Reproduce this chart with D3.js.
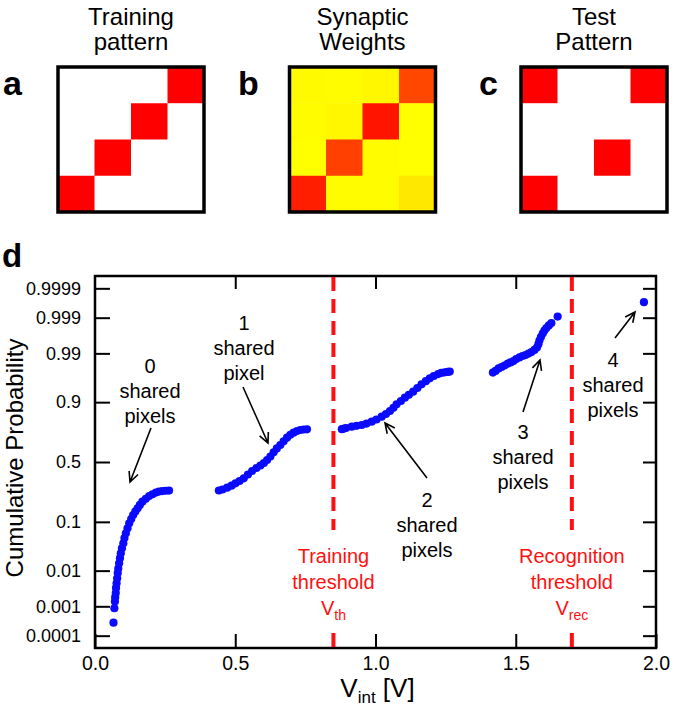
<!DOCTYPE html>
<html>
<head>
<meta charset="utf-8">
<title>Pattern recognition</title>
<script src="https://d3js.org/d3.v7.min.js"></script>
<style>
  body { margin: 0; background: #fff; }
  text { font-family: "Liberation Sans", Arial, sans-serif; }
</style>
</head>
<body>
<svg width="675" height="710"></svg>
<script>
// ---- panel a-c : 4x4 pixel patterns (row 0 = top) ----
var trainingPattern = [
  [0,0,0,1],
  [0,0,1,0],
  [0,1,0,0],
  [1,0,0,0]];
var synapticWeights = [
  [0.02,0.01,0.03,0.72],
  [0.01,0.03,0.92,0.00],
  [0.00,0.75,0.01,0.00],
  [0.88,0.01,0.01,0.09]];
var testPattern = [
  [1,0,0,1],
  [0,0,0,0],
  [0,0,1,0],
  [1,0,0,0]];
var panelTitles = [["Training","pattern"],["Synaptic","Weights"],["Test","Pattern"]];
var panelLetters = ["a","b","c"];

// ---- panel d : cumulative probability vs V_int, one array per shared-pixel count ----
var shared0 = [[0.066,0.00029],[0.069,0.00087],[0.071,0.0014],[0.072,0.0019],[0.074,0.0025],
  [0.075,0.0035],[0.077,0.0047],[0.079,0.0064],[0.081,0.0087],[0.083,0.0113],[0.086,0.015],
  [0.089,0.0197],[0.092,0.0253],[0.096,0.0322],[0.101,0.0409],[0.105,0.0516],[0.110,0.0634],
  [0.116,0.0778],[0.122,0.0946],[0.129,0.111],[0.136,0.128],[0.144,0.145],[0.152,0.161],
  [0.160,0.179],[0.169,0.198],[0.181,0.215],[0.193,0.233],[0.205,0.245],[0.217,0.256],
  [0.228,0.263],[0.240,0.267],[0.252,0.269],[0.264,0.270]];
var shared1 = [[0.4416,0.2709],[0.4547,0.278],[0.4714,0.2912],[0.4867,0.306],[0.5009,0.3242],
  [0.5151,0.342],[0.5304,0.3635],[0.5453,0.3944],[0.5602,0.4235],[0.5755,0.449],[0.5897,0.470],
  [0.6021,0.4916],[0.6135,0.517],[0.6252,0.547],[0.6369,0.582],[0.6483,0.614],[0.6607,0.642],
  [0.6725,0.671],[0.6845,0.6985],[0.6963,0.7197],[0.7080,0.7347],[0.7201,0.7466],[0.7318,0.7533],
  [0.7435,0.7568],[0.7556,0.758]];
var shared2 = [[0.880,0.7587],[0.888,0.7627],[0.895,0.7667],[0.9155,0.7751],[0.9325,0.7808],
  [0.951,0.7859],[0.968,0.7945],[0.9865,0.8059],[1.0036,0.8186],[1.022,0.834],[1.0373,0.848],
  [1.0515,0.8626],[1.064,0.8772],[1.0753,0.8918],[1.0906,0.9042],[1.1048,0.9157],[1.119,0.925],
  [1.1343,0.9339],[1.1492,0.9435],[1.1641,0.9519],[1.1794,0.9582],[1.1936,0.9634],[1.2078,0.9672],
  [1.2231,0.9702],[1.2345,0.9717],[1.2469,0.9726],[1.2575,0.9731],[1.2647,0.9736]];
var shared3 = [[1.4185,0.9723],[1.428,0.9744],[1.4387,0.9774],[1.4494,0.9790],[1.460,0.9806],
  [1.4718,0.9825],[1.4813,0.9835],[1.492,0.9847],[1.5016,0.9863],[1.5133,0.9874],[1.524,0.9884],
  [1.5346,0.9890],[1.5453,0.9899],[1.556,0.9907],[1.5666,0.9918],[1.5755,0.9929],[1.5808,0.9942],
  [1.5844,0.99536],[1.5897,0.99628],[1.5961,0.99704],[1.6021,0.99757],[1.6092,0.99794],
  [1.6181,0.99827],[1.627,0.99854],[1.6494,0.99908]];
var shared4 = [[1.957,0.99969]];

var xTicks = [0, 0.5, 1.0, 1.5, 2.0];
var xTickLabels = ["0.0","0.5","1.0","1.5","2.0"];
var yTicks = [0.0001,0.001,0.01,0.1,0.5,0.9,0.99,0.999,0.9999];
var yTickLabels = ["0.0001","0.001","0.01","0.1","0.5","0.9","0.99","0.999","0.9999"];
var vTh = 0.85, vRec = 1.70;

var svg = d3.select("svg");

// ---------- top panels ----------
var weightColor = d3.scaleLinear().domain([0,1]).range(["#ffff00","#ff0000"]);
var panels = [
  {m: trainingPattern, x: 58,    fill: function(v){ return v ? "#ff0000" : "#ffffff"; }},
  {m: synapticWeights, x: 289.5, fill: function(v){ return weightColor(v); }},
  {m: testPattern,     x: 521,   fill: function(v){ return v ? "#ff0000" : "#ffffff"; }}
];
var boxW = 146, boxH = 145, boxTop = 67;

panels.forEach(function(p, k){
  var cx = d3.scaleBand().domain(d3.range(4)).range([p.x, p.x+boxW]);
  var cy = d3.scaleBand().domain(d3.range(4)).range([boxTop, boxTop+boxH]);
  var g = svg.append("g");
  var cells = [];
  p.m.forEach(function(row, r){ row.forEach(function(v, c){ cells.push({r:r, c:c, v:v}); }); });
  g.selectAll("rect.cell").data(cells).enter().append("rect")
    .attr("class","cell")
    .attr("x", d=>cx(d.c)).attr("y", d=>cy(d.r))
    .attr("width", cx.bandwidth()+0.5).attr("height", cy.bandwidth()+0.5)
    .attr("fill", d=>p.fill(d.v));
  g.append("rect")
    .attr("x", p.x).attr("y", boxTop).attr("width", boxW).attr("height", boxH)
    .attr("fill","none").attr("stroke","#000").attr("stroke-width",3.5);
  var t = g.append("text").attr("text-anchor","middle").attr("font-size",24).attr("fill","#000");
  t.append("tspan").attr("x", p.x+boxW/2).attr("y",25).text(panelTitles[k][0]);
  t.append("tspan").attr("x", p.x+boxW/2).attr("y",50).text(panelTitles[k][1]);
});
svg.selectAll("text.letter").data(panelLetters).enter().append("text")
  .attr("class","letter")
  .attr("x", (d,i)=>[3,238,479][i]).attr("y",95)
  .attr("font-size",34).attr("font-weight","bold").text(d=>d);
svg.append("text").attr("x",2).attr("y",267)
  .attr("font-size",33).attr("font-weight","bold").text("d");

// ---------- panel d ----------
// inverse normal CDF (Acklam) for the probability axis
function probit(p) {
  var a=[-3.969683028665376e+01,2.209460984245205e+02,-2.759285104469687e+02,1.383577518672690e+02,-3.066479806614716e+01,2.506628277459239e+00];
  var b=[-5.447609879822406e+01,1.615858368580409e+02,-1.556989798598866e+02,6.680131188771972e+01,-1.328068155288572e+01];
  var c=[-7.784894002430293e-03,-3.223964580411365e-01,-2.400758277161838e+00,-2.549732539343734e+00,4.374664141464968e+00,2.938163982698783e+00];
  var d=[7.784695709041462e-03,3.224671290700398e-01,2.445134137142996e+00,3.754408661907416e+00];
  var pl=0.02425, q, r;
  if (p < pl) {
    q = Math.sqrt(-2*Math.log(p));
    return (((((c[0]*q+c[1])*q+c[2])*q+c[3])*q+c[4])*q+c[5])/((((d[0]*q+d[1])*q+d[2])*q+d[3])*q+1);
  }
  if (p > 1-pl) {
    q = Math.sqrt(-2*Math.log(1-p));
    return -(((((c[0]*q+c[1])*q+c[2])*q+c[3])*q+c[4])*q+c[5])/((((d[0]*q+d[1])*q+d[2])*q+d[3])*q+1);
  }
  q = p-0.5; r = q*q;
  return (((((a[0]*r+a[1])*r+a[2])*r+a[3])*r+a[4])*r+a[5])*q/(((((b[0]*r+b[1])*r+b[2])*r+b[3])*r+b[4])*r+1);
}

var L = 95, R = 656, T = 276, B = 648;
var xScale = d3.scaleLinear().domain([0,2]).range([L,R]);
var zScale = d3.scaleLinear().domain([-3.983,3.983]).range([B,T]);
var yOf = p => zScale(probit(p));

var plot = svg.append("g");

// axes (ticks point inward on all four sides)
var fontFam = '"Liberation Sans", Arial, sans-serif';
plot.append("g").attr("transform",`translate(${L},0)`)
  .call(d3.axisLeft(zScale).tickValues(yTicks.map(probit)).tickSize(-15).tickPadding(14)
    .tickFormat((d,i)=>yTickLabels[i]))
  .attr("font-size",18).attr("font-family",fontFam);
plot.append("g").attr("transform",`translate(${R},0)`)
  .call(d3.axisRight(zScale).tickValues(yTicks.map(probit)).tickSize(-13).tickFormat(""));
plot.append("g").attr("transform",`translate(0,${B})`)
  .call(d3.axisBottom(xScale).tickValues(xTicks).tickSize(-14).tickPadding(8)
    .tickFormat((d,i)=>xTickLabels[i]))
  .attr("font-size",19.5).attr("font-family",fontFam);
plot.append("g").attr("transform",`translate(0,${T})`)
  .call(d3.axisTop(xScale).tickValues(xTicks.slice(1,4)).tickSize(-13).tickFormat(""));
plot.selectAll(".domain").remove();
plot.selectAll(".tick line").attr("stroke","#000").attr("stroke-width",2);
plot.selectAll(".tick text").attr("fill","#000");

plot.append("rect").attr("x",L).attr("y",T).attr("width",R-L).attr("height",B-T)
  .attr("fill","none").attr("stroke","#000").attr("stroke-width",2.5);

// thresholds
[vTh, vRec].forEach(function(v){
  plot.append("line").attr("x1",xScale(v)).attr("x2",xScale(v)).attr("y1",T+1).attr("y2",530)
    .attr("stroke","#ff1010").attr("stroke-width",4).attr("stroke-dasharray","14,8");
  plot.append("line").attr("x1",xScale(v)).attr("x2",xScale(v)).attr("y1",B-15).attr("y2",B-1)
    .attr("stroke","#ff1010").attr("stroke-width",4);
});

// data points
var allPts = [].concat(shared0, shared1, shared2, shared3, shared4);
plot.append("g").selectAll("circle").data(allPts).enter().append("circle")
  .attr("cx", d=>xScale(d[0])).attr("cy", d=>yOf(d[1]))
  .attr("r",4.1).attr("fill","#0a0aff");

// red threshold labels
function redLabel(x, l1, l2, sub) {
  var t = plot.append("text").attr("text-anchor","middle").attr("font-size",20).attr("fill","#ff1010");
  t.append("tspan").attr("x",x).attr("y",563).text(l1);
  t.append("tspan").attr("x",x).attr("y",589).text(l2);
  var t3 = plot.append("text").attr("text-anchor","middle").attr("font-size",20).attr("fill","#ff1010")
    .attr("x",x).attr("y",615);
  t3.append("tspan").text("V");
  t3.append("tspan").attr("font-size",14).attr("dy",5).text(sub);
}
redLabel(xScale(vTh), "Training", "threshold", "th");
redLabel(xScale(vRec), "Recognition", "threshold", "rec");

// black annotations with arrows
var notes = [
  {x:150, y:373, lines:["0","shared","pixels"], a:[151,428,130,482]},
  {x:244, y:330, lines:["1","shared","pixel"],  a:[243,387,268,443]},
  {x:427, y:507, lines:["2","shared","pixels"], a:[427,478,385,423]},
  {x:523, y:439, lines:["3","shared","pixels"], a:[523,412,540,360]},
  {x:613, y:367, lines:["4","shared","pixels"], a:[615,338,635,312]}
];
notes.forEach(function(n){
  var t = plot.append("text").attr("text-anchor","middle").attr("font-size",20).attr("fill","#000");
  n.lines.forEach(function(s,i){ t.append("tspan").attr("x",n.x).attr("y",n.y+i*25).text(s); });
  var x1=n.a[0], y1=n.a[1], x2=n.a[2], y2=n.a[3];
  var ang = Math.atan2(y2-y1, x2-x1), h = 11, w = 0.45;
  var p = d3.path();
  p.moveTo(x1,y1); p.lineTo(x2,y2);
  p.moveTo(x2-h*Math.cos(ang-w), y2-h*Math.sin(ang-w)); p.lineTo(x2,y2);
  p.lineTo(x2-h*Math.cos(ang+w), y2-h*Math.sin(ang+w));
  plot.append("path").attr("d",p.toString()).attr("fill","none")
    .attr("stroke","#000").attr("stroke-width",1.6);
});

// axis titles
svg.append("text").attr("transform","translate(23,458) rotate(-90)")
  .attr("text-anchor","middle").attr("font-size",24).attr("fill","#000")
  .text("Cumulative Probability");
var xt = svg.append("text").attr("x",(L+R)/2+2).attr("y",697).attr("text-anchor","middle")
  .attr("font-size",26).attr("fill","#000");
xt.append("tspan").text("V");
xt.append("tspan").attr("font-size",17).attr("dy",6).text("int");
xt.append("tspan").attr("dy",-6).text(" [V]");
</script>
</body>
</html>
